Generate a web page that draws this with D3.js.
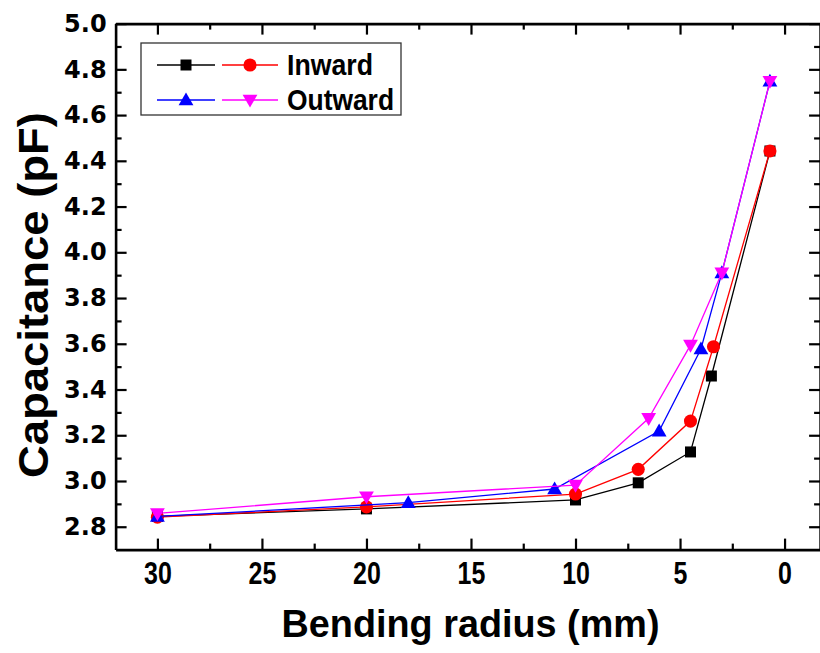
<!DOCTYPE html>
<html>
<head>
<meta charset="utf-8">
<script src="https://cdn.jsdelivr.net/npm/d3@7/dist/d3.min.js"></script>
<style>
  body { margin: 0; background: #fff; }
  svg { display: block; }
</style>
</head>
<body>
<script>
// bending radius (mm) and capacitance (pF)
var inwardAX = [30, 20, 10, 7, 4.5, 3.5, 0.7];
var inwardAY = [2.845, 2.878, 2.917, 2.992, 3.127, 3.459, 4.443];
var inwardBX = [30, 20, 10, 7, 4.5, 3.4, 0.7];
var inwardBY = [2.842, 2.887, 2.943, 3.051, 3.262, 3.587, 4.443];
var outwardAX = [30, 18, 11, 6, 4, 3, 0.7];
var outwardAY = [2.845, 2.905, 2.965, 3.218, 3.577, 3.91, 4.748];
var outwardBX = [30, 20, 10, 6.5, 4.5, 3, 0.7];
var outwardBY = [2.858, 2.931, 2.982, 3.274, 3.594, 3.91, 4.748];

var xTicks = [30, 25, 20, 15, 10, 5, 0];
var xMinor = [27.5, 22.5, 17.5, 12.5, 7.5, 2.5];
var yTicks = [2.8, 3.0, 3.2, 3.4, 3.6, 3.8, 4.0, 4.2, 4.4, 4.6, 4.8, 5.0];
var yMinor = [2.9, 3.1, 3.3, 3.5, 3.7, 3.9, 4.1, 4.3, 4.5, 4.7, 4.9];

var W = 820, H = 653;
var plotL = 115.6, plotR = 820.1, plotT = 23.6, plotB = 549.6;

var svg = d3.select('body').append('svg')
  .attr('width', W)
  .attr('height', H);

var x = d3.scaleLinear().domain([32, -1.7]).range([plotL, plotR]);
var y = d3.scaleLinear().domain([2.7, 5.0]).range([plotB, plotT]);

var series = [
  { xs: inwardAX, ys: inwardAY, color: '#000000', shape: 'square' },
  { xs: inwardBX, ys: inwardBY, color: '#ff0000', shape: 'circle' },
  { xs: outwardAX, ys: outwardAY, color: '#0000ff', shape: 'up' },
  { xs: outwardBX, ys: outwardBY, color: '#ff00ff', shape: 'down' }
];

function symbolPath(shape) {
  if (shape === 'square') return d3.symbol().type(d3.symbolSquare).size(121)();
  if (shape === 'circle') return d3.symbol().type(d3.symbolCircle).size(135)();
  return d3.symbol().type(d3.symbolTriangle).size(95)();
}
function symbolTransform(shape, px, py) {
  if (shape === 'up') return 'translate(' + px + ',' + (py + 1) + ')';
  if (shape === 'down') return 'translate(' + px + ',' + (py - 1) + ') rotate(180)';
  return 'translate(' + px + ',' + py + ')';
}

// lines + markers
var line = d3.line()
  .x(function(d) { return x(d[0]); })
  .y(function(d) { return y(d[1]); });

series.forEach(function(s) {
  var pts = s.xs.map(function(v, i) { return [v, s.ys[i]]; });
  svg.append('path')
    .datum(pts)
    .attr('d', line)
    .attr('fill', 'none')
    .attr('stroke', s.color)
    .attr('stroke-width', 1.3);
  svg.selectAll(null)
    .data(pts)
    .enter()
    .append('path')
    .attr('d', symbolPath(s.shape))
    .attr('transform', function(d) { return symbolTransform(s.shape, x(d[0]), y(d[1])); })
    .attr('fill', s.color);
});

// axes, ticks pointing inward
function styleAxis(g) {
  g.select('.domain').attr('stroke', '#000').attr('stroke-width', 2.6);
  g.selectAll('.tick line').attr('stroke', '#000').attr('stroke-width', 2.2);
}

var gx = svg.append('g')
  .attr('transform', 'translate(0,' + plotB + ')')
  .call(d3.axisBottom(x).tickValues(xTicks).tickSize(-11).tickSizeOuter(0).tickPadding(12))
  .call(styleAxis);
gx.selectAll('.tick text')
  .attr('font-family', 'Liberation Sans, Arial, sans-serif')
  .attr('font-weight', 'bold')
  .attr('font-size', 32)
  .attr('fill', '#000')
  .attr('transform', 'scale(0.78,1)');

var gxMinor = svg.append('g')
  .attr('transform', 'translate(0,' + plotB + ')')
  .call(d3.axisBottom(x).tickValues(xMinor).tickSize(-6).tickFormat(''))
  .call(styleAxis);
gxMinor.select('.domain').remove();

var gt = svg.append('g')
  .attr('transform', 'translate(0,' + plotT + ')')
  .call(d3.axisTop(x).tickValues(xTicks).tickSize(-11).tickSizeOuter(0).tickFormat(''))
  .call(styleAxis);
var gtMinor = svg.append('g')
  .attr('transform', 'translate(0,' + plotT + ')')
  .call(d3.axisTop(x).tickValues(xMinor).tickSize(-6).tickFormat(''))
  .call(styleAxis);
gtMinor.select('.domain').remove();

var gy = svg.append('g')
  .attr('transform', 'translate(' + plotL + ',0)')
  .call(d3.axisLeft(y).tickValues(yTicks).tickSize(-11).tickSizeOuter(0).tickPadding(9).tickFormat(d3.format('.1f')))
  .call(styleAxis);
gy.selectAll('.tick text')
  .attr('font-family', 'DejaVu Sans, sans-serif')
  .attr('font-weight', 'bold')
  .attr('font-size', 24)
  .attr('fill', '#000');

var gyMinor = svg.append('g')
  .attr('transform', 'translate(' + plotL + ',0)')
  .call(d3.axisLeft(y).tickValues(yMinor).tickSize(-6).tickFormat(''))
  .call(styleAxis);
gyMinor.select('.domain').remove();

var gr = svg.append('g')
  .attr('transform', 'translate(' + plotR + ',0)')
  .call(d3.axisRight(y).tickValues(yTicks).tickSize(-11).tickSizeOuter(0).tickFormat(''))
  .call(styleAxis);
var grMinor = svg.append('g')
  .attr('transform', 'translate(' + plotR + ',0)')
  .call(d3.axisRight(y).tickValues(yMinor).tickSize(-6).tickFormat(''))
  .call(styleAxis);
grMinor.select('.domain').remove();

// axis titles
svg.append('text')
  .attr('x', 281.5)
  .attr('y', 636.5)
  .attr('textLength', 378)
  .attr('lengthAdjust', 'spacingAndGlyphs')
  .attr('font-family', 'Liberation Sans, Arial, sans-serif')
  .attr('font-weight', 'bold')
  .attr('font-size', 39)
  .text('Bending radius (mm)');

svg.append('text')
  .attr('transform', 'translate(48,478) rotate(-90)')
  .attr('textLength', 366)
  .attr('lengthAdjust', 'spacingAndGlyphs')
  .attr('font-family', 'Liberation Sans, Arial, sans-serif')
  .attr('font-weight', 'bold')
  .attr('font-size', 43)
  .text('Capacitance (pF)');

// legend
var legend = svg.append('g');
legend.append('rect')
  .attr('x', 141).attr('y', 43)
  .attr('width', 260).attr('height', 72)
  .attr('fill', '#fff')
  .attr('stroke', '#333')
  .attr('stroke-width', 1.3);

var legendItems = [
  { s: series[0], x0: 157, x1: 215, cy: 65 },
  { s: series[1], x0: 222, x1: 278, cy: 65 },
  { s: series[2], x0: 157, x1: 215, cy: 100 },
  { s: series[3], x0: 222, x1: 278, cy: 100 }
];
legendItems.forEach(function(it) {
  legend.append('line')
    .attr('x1', it.x0).attr('x2', it.x1)
    .attr('y1', it.cy).attr('y2', it.cy)
    .attr('stroke', it.s.color)
    .attr('stroke-width', 1.3);
  legend.append('path')
    .attr('d', symbolPath(it.s.shape))
    .attr('transform', symbolTransform(it.s.shape, (it.x0 + it.x1) / 2, it.cy))
    .attr('fill', it.s.color);
});

var legendLabels = [
  { text: 'Inward', y: 75, len: 86 },
  { text: 'Outward', y: 110, len: 107 }
];
legendLabels.forEach(function(l) {
  legend.append('text')
    .attr('x', 287)
    .attr('y', l.y)
    .attr('textLength', l.len)
    .attr('lengthAdjust', 'spacingAndGlyphs')
    .attr('font-family', 'Liberation Sans, Arial, sans-serif')
    .attr('font-weight', 'bold')
    .attr('font-size', 30)
    .text(l.text);
});
</script>
</body>
</html>
